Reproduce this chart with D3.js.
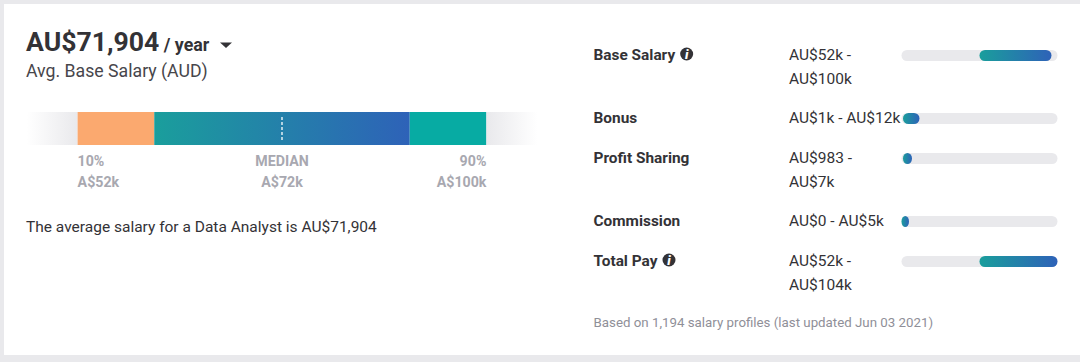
<!DOCTYPE html>
<html>
<head>
<meta charset="utf-8">
<script src="https://cdn.jsdelivr.net/npm/d3@7"></script>
<style>
  html, body { margin: 0; padding: 0; background: #e9e9ec; overflow: hidden; }
  text { font-family: Roboto, sans-serif; }
</style>
</head>
<body>
<div id="viz"></div>
<script>
/* ===== Data ===== */
const average = 'AU$71,904';
const percentileStops = [0, 10, 25, 75, 90, 100];
const percentileMarks = [10, 50, 90];
const percentileNames = ['10%', 'MEDIAN', '90%'];
const percentileValues = ['A$52k', 'A$72k', 'A$100k'];
const medianPercentile = 50;

const payNames = ['Base Salary', 'Bonus', 'Profit Sharing', 'Commission', 'Total Pay'];
const payLow = [52, 1, 0.983, 0, 52];
const payHigh = [100, 12, 7, 5, 104];
const payRanges = [
  ['AU$52k -', 'AU$100k'],
  ['AU$1k - AU$12k'],
  ['AU$983 -', 'AU$7k'],
  ['AU$0 - AU$5k'],
  ['AU$52k -', 'AU$104k']
];
const payHasInfo = [true, false, false, false, true];
const payDomain = [0, 104];

/* ===== Canvas ===== */
const width = 1080;
const height = 362;
const textDark = '#333236';
const textGrey = '#a8a8b0';
const trackColor = '#e9e9ec';

const svg = d3.select('#viz')
  .append('svg')
  .attr('width', width)
  .attr('height', height)
  .style('display', 'block');

svg.append('rect')
  .attr('x', 4)
  .attr('y', 4)
  .attr('width', width - 4)
  .attr('height', 351)
  .attr('fill', '#fff');

/* ===== Gradients ===== */
const defs = svg.append('defs');

function addGradient(id, stops) {
  const grad = defs.append('linearGradient').attr('id', id);
  stops.forEach(function (s) {
    grad.append('stop').attr('offset', s[0]).attr('stop-color', s[1]).attr('stop-opacity', s[2]);
  });
}
addGradient('payGrad', [[0, '#1a9e9c', 1], [1, '#2e62b8', 1]]);
addGradient('fadeLeft', [[0, trackColor, 0], [1, trackColor, 1]]);
addGradient('fadeRight', [[0, trackColor, 1], [1, trackColor, 0]]);

/* ===== Header ===== */
const head = svg.append('text')
  .attr('x', 26)
  .attr('y', 50.5)
  .attr('fill', textDark);
head.append('tspan')
  .attr('font-size', 26.6)
  .attr('font-weight', 700)
  .text(average);
head.append('tspan')
  .attr('dx', 4.5)
  .attr('font-size', 17.8)
  .attr('font-weight', 700)
  .text('/ year');

svg.append('path')
  .attr('d', d3.line()([[220, 42.5], [232, 42.5], [226, 48]]) + 'Z')
  .attr('fill', textDark);

svg.append('text')
  .attr('x', 26)
  .attr('y', 77)
  .attr('font-size', 17.7)
  .attr('fill', '#47464b')
  .text('Avg. Base Salary (AUD)');

/* ===== Percentile bar ===== */
const xPct = d3.scaleLinear().domain([0, 100]).range([26.5, 537.5]);
const barTop = 112;
const barHeight = 33;
const segmentFills = ['url(#fadeLeft)', '#fba96f', 'url(#payGrad)', '#07aba3', 'url(#fadeRight)'];

const segments = svg.append('g').attr('class', 'percentile-bar');
segments.selectAll('rect')
  .data(d3.pairs(percentileStops))
  .join('rect')
  .attr('x', d => xPct(d[0]))
  .attr('y', barTop)
  .attr('width', d => xPct(d[1]) - xPct(d[0]))
  .attr('height', barHeight)
  .attr('fill', (d, i) => segmentFills[i]);

segments.append('line')
  .attr('x1', xPct(medianPercentile))
  .attr('x2', xPct(medianPercentile))
  .attr('y1', barTop + 5)
  .attr('y2', barTop + 28)
  .attr('stroke', '#fff')
  .attr('stroke-width', 1.3)
  .attr('stroke-dasharray', '3 2');

const anchors = ['start', 'middle', 'end'];
const labels = svg.append('g').attr('class', 'percentile-labels');
percentileMarks.forEach(function (p, i) {
  labels.append('text')
    .attr('x', xPct(p))
    .attr('y', 166.4)
    .attr('text-anchor', anchors[i])
    .attr('font-size', 14.2)
    .attr('font-weight', 700)
    .attr('fill', textGrey)
    .text(percentileNames[i]);
  labels.append('text')
    .attr('x', xPct(p))
    .attr('y', 187.4)
    .attr('text-anchor', anchors[i])
    .attr('font-size', 14.2)
    .attr('font-weight', 700)
    .attr('fill', textGrey)
    .text(percentileValues[i]);
});

svg.append('text')
  .attr('x', 26)
  .attr('y', 232)
  .attr('font-size', 15.5)
  .attr('fill', textDark)
  .text('The average salary for a Data Analyst is ' + average);

/* ===== Pay rows ===== */
const xPay = d3.scaleLinear().domain(payDomain).range([901.5, 1057.5]);
const rowBaseline = d3.scaleOrdinal().domain(payNames).range([59, 122, 162, 225, 265]);
const trackHeight = 11;

const rows = svg.selectAll('g.pay-row')
  .data(payNames)
  .join('g')
  .attr('class', 'pay-row');

rows.append('text')
  .attr('class', 'pay-name')
  .attr('x', 593.5)
  .attr('y', d => rowBaseline(d) + 0.5)
  .attr('font-size', 15.4)
  .attr('font-weight', 700)
  .attr('fill', textDark)
  .text(d => d);

rows.each(function (d, i) {
  const row = d3.select(this);
  const y = rowBaseline(d);

  payRanges[i].forEach(function (line, k) {
    row.append('text')
      .attr('x', 789)
      .attr('y', y + 0.5 + k * 24)
      .attr('font-size', 15.5)
      .attr('fill', textDark)
      .text(line);
  });

  row.append('rect')
    .attr('x', xPay(payDomain[0]))
    .attr('y', y - 9)
    .attr('width', xPay(payDomain[1]) - xPay(payDomain[0]))
    .attr('height', trackHeight)
    .attr('rx', 5.5)
    .attr('fill', trackColor);

  row.append('rect')
    .attr('x', xPay(payLow[i]))
    .attr('y', y - 9)
    .attr('width', xPay(payHigh[i]) - xPay(payLow[i]))
    .attr('height', trackHeight)
    .attr('rx', 5.5)
    .attr('fill', 'url(#payGrad)');

  if (payHasInfo[i]) {
    // little info icon sits right after the row name
    const nameEnd = row.select('.pay-name').node().getComputedTextLength() + 593.5;
    const cx = nameEnd + 11.5;
    row.append('circle')
      .attr('cx', cx)
      .attr('cy', y - 5)
      .attr('r', 6.5)
      .attr('fill', textDark);
    row.append('text')
      .attr('x', cx)
      .attr('y', y - 0.5)
      .attr('text-anchor', 'middle')
      .attr('font-size', 13)
      .attr('font-weight', 900)
      .attr('font-style', 'italic')
      .attr('fill', '#fff')
      .text('i');
  }
});

svg.append('text')
  .attr('x', 593.5)
  .attr('y', 327.3)
  .attr('font-size', 13.3)
  .attr('fill', '#8f8f98')
  .text('Based on 1,194 salary profiles (last updated Jun 03 2021)');
</script>
</body>
</html>
